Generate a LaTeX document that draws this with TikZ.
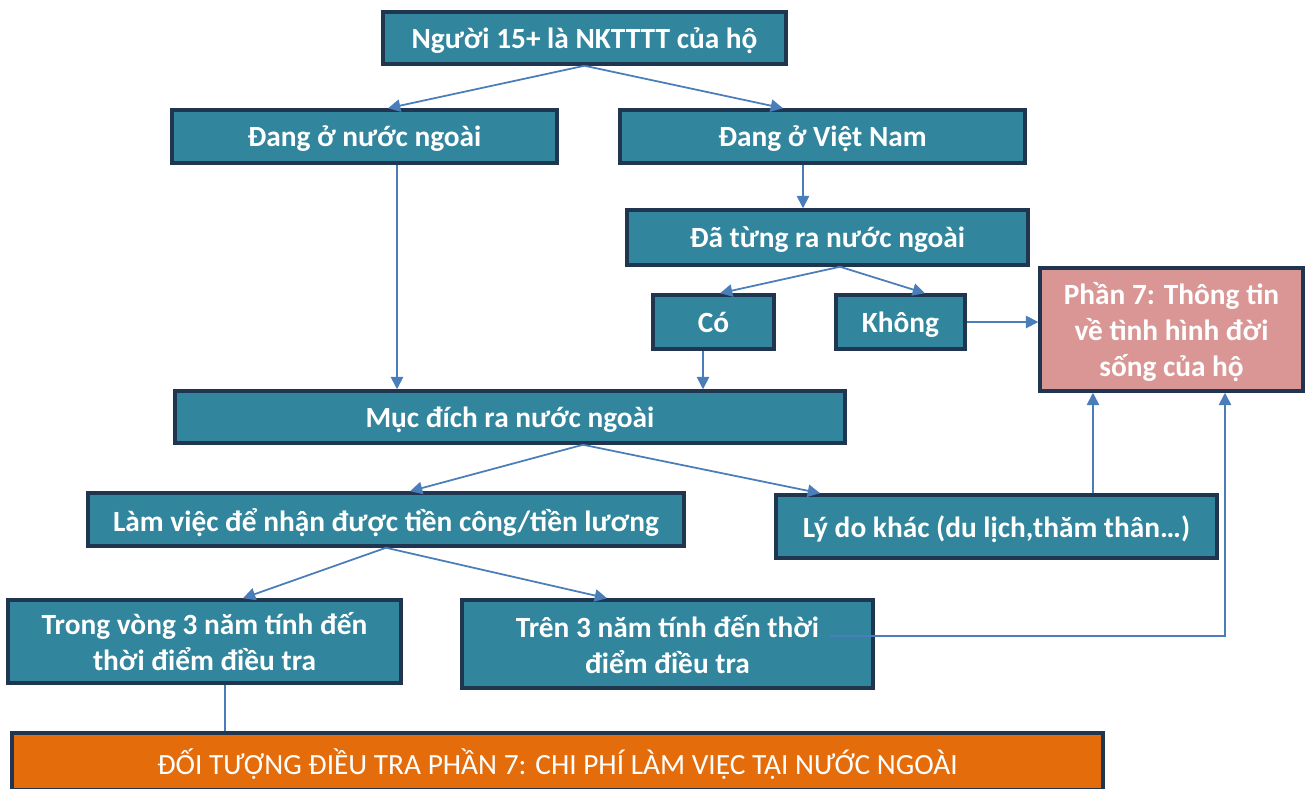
\documentclass[tikz,border=0pt]{standalone}
\usepackage{fontspec}
\setmainfont{Carlito}
\usetikzlibrary{arrows.meta}
\definecolor{teal1}{HTML}{31859C}
\definecolor{navy1}{HTML}{1F3550}
\definecolor{line1}{HTML}{4A7EBB}
\definecolor{pink1}{HTML}{D99694}
\definecolor{orange1}{HTML}{E46C0A}
\begin{document}
\begin{tikzpicture}[x=0.02cm, y=-0.02cm,
    box/.style = {draw=navy1, line width=2pt, fill=teal1, text=white, align=center,
                  font=\bfseries\fontsize{16.7}{20.5}\selectfont, inner sep=2pt, text depth=-3.7pt},
    pinkbox/.style = {box, fill=pink1},
    orangebox/.style = {box, fill=orange1, font=\fontsize{16.7}{20.5}\selectfont},
    arr/.style = {draw=line1, line width=1pt, -{Triangle[length=7pt,width=7pt]}}]
        \useasboundingbox (0,0) rectangle (1305,788);
        \node[box, minimum width=8.06cm, minimum height=1.04cm] (top) at (584.5,38) {Người 15+ là NKTTTT của hộ};
        \node[box, minimum width=7.7cm, minimum height=1.06cm] (abroad) at (364.5,136.5) {Đang ở nước ngoài};
        \node[box, minimum width=8.1cm, minimum height=1.06cm] (vn) at (822.5,136.5) {Đang ở Việt Nam};
        \node[box, minimum width=8.02cm, minimum height=1.1cm] (been) at (827.5,237.5) {Đã từng ra nước ngoài};
        \node[box, minimum width=2.42cm, minimum height=1.08cm] (yes) at (713.5,322) {Có};
        \node[box, minimum width=2.58cm, minimum height=1.08cm] (no) at (900.5,322) {Không};
        \node[pinkbox, minimum width=5.26cm, minimum height=2.46cm] (part7) at (1171.5,329.5) {Phần 7: Thông tin\\về tình hình đời\\sống của hộ};
        \node[box, minimum width=13.4cm, minimum height=1.04cm] (purpose) at (510,417) {Mục đích ra nước ngoài};
        \node[box, minimum width=11.92cm, minimum height=1.06cm] (work) at (386,519.5) {Làm việc để nhận được tiền công/tiền lương};
        \node[box, minimum width=8.82cm, minimum height=1.26cm] (other) at (996.5,526.5) {Lý do khác (du lịch,thăm thân…)};
        \node[box, minimum width=7.86cm, minimum height=1.66cm] (within) at (204.5,641.5) {Trong vòng 3 năm tính đến\\thời điểm điều tra};
        \node[box, minimum width=8.22cm, minimum height=1.76cm] (over) at (667.5,644) {Trên 3 năm tính đến thời\\điểm điều tra};
        \node[orangebox, minimum width=21.82cm, minimum height=1.14cm] (target) at (557.5,761.5) {ĐỐI TƯỢNG ĐIỀU TRA PHẦN 7: CHI PHÍ LÀM VIỆC TẠI NƯỚC NGOÀI};
        %
        \draw[arr] (top.south) -- ([xshift=0.47cm]abroad.north);
        \draw[arr] (top.south) -- ([xshift=-0.79cm]vn.north);
        \draw[arr] ([xshift=0.65cm]abroad.south) -- ([xshift=0.65cm]abroad.south |- purpose.north);
        \draw[arr] ([xshift=-0.39cm]vn.south) -- ([xshift=-0.39cm]vn.south |- been.north);
        \draw[arr] ([xshift=0.25cm]been.south) -- ([xshift=0.13cm]yes.north);
        \draw[arr] ([xshift=0.25cm]been.south) -- ([xshift=0.49cm]no.north);
        \draw[arr] ([xshift=-0.21cm]yes.south) -- ([xshift=-0.21cm]yes.south |- purpose.north);
        \draw[arr] (no.east) -- (no.east -| part7.west);
        \draw[arr] ([xshift=1.46cm]purpose.south) -- ([xshift=0.48cm]work.north);
        \draw[arr] ([xshift=1.46cm]purpose.south) -- ([xshift=-3.53cm]other.north);
        \draw[arr] ([xshift=1.93cm]other.north) -- ([xshift=1.93cm]other.north |- part7.south);
        \draw[arr] (work.south) -- ([xshift=0.77cm]within.north);
        \draw[arr] (work.south) -- ([xshift=-1.21cm]over.north);
        \draw[arr] ([xshift=3.25cm,yshift=0.16cm]over.center) -| ([xshift=1.07cm]part7.south);
        \draw[draw=line1, line width=1pt] ([xshift=0.41cm]within.south) -- ([xshift=0.41cm]within.south |- target.north);
      \end{tikzpicture}
\end{document}
